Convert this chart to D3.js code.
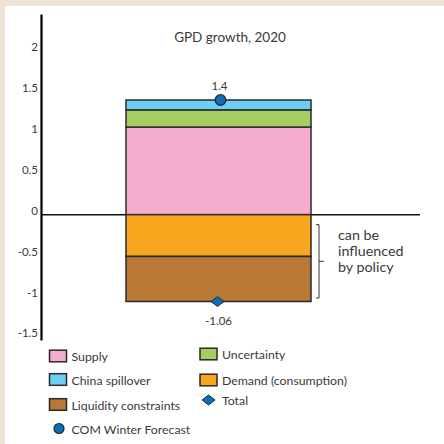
<!DOCTYPE html>
<html>
<head>
<meta charset="utf-8">
<script src="https://cdn.jsdelivr.net/npm/d3@7"></script>
<style>
  html, body { margin: 0; padding: 0; background: #EFE3D6; }
  svg { display: block; }
  text { font-family: Lato, "Open Sans", sans-serif; fill: #3a3a3a; }
</style>
</head>
<body>
<svg id="chart" width="444" height="444"></svg>
<script>
// GDP growth decomposition, 2020
const categories = ["2020"];
const seriesNames = ["Supply", "Uncertainty", "China spillover", "Demand (consumption)", "Liquidity constraints"];
const seriesValues = [1.07, 0.21, 0.12, -0.51, -0.55];
const forecastValue = [1.4];   // COM Winter Forecast
const totalValue = [-1.06];    // Total
const yTicks = [-1.5, -1, -0.5, 0, 0.5, 1, 1.5, 2];
const yTickLabels = ["-1.5", "-1", "-0.5", "0", "0.5", "1", "1.5", "2"];
const policyNote = ["can be", "influenced", "by policy"];
const titleText = "GPD growth, 2020";

const colors = {
  "Supply": "#F5ACCD",
  "Uncertainty": "#A4CE61",
  "China spillover": "#6DCFF6",
  "Demand (consumption)": "#F8A61E",
  "Liquidity constraints": "#B97835"
};
const markerFill = "#0B6FB8";
const edge = "#2a2a2a";
// plain hyphen for negative numbers
const fmt = p => v => d3.format(p)(v).replace("\u2212", "-");

const svg = d3.select("#chart");

// white panel
svg.append("rect").attr("x", 5).attr("y", 6).attr("width", 439).attr("height", 438).attr("fill", "#fff");

const y = d3.scaleLinear().domain([-1.53, 2.45]).range([340, 14]);
const x = d3.scaleBand().domain(categories).range([126, 311]).padding(0);

// stacked table
const table = categories.map(c => {
  const row = { cat: c };
  seriesNames.forEach((s, j) => row[s] = seriesValues[j]);
  return row;
});
const stacked = d3.stack().keys(seriesNames).offset(d3.stackOffsetDiverging)(table);

// zero line
svg.append("line")
  .attr("x1", 41).attr("x2", 420)
  .attr("y1", y(0)).attr("y2", y(0))
  .attr("stroke", "#111").attr("stroke-width", 1.5);

// bars
svg.append("g").selectAll("g").data(stacked).join("g")
  .attr("fill", d => colors[d.key])
  .selectAll("rect").data(d => d).join("rect")
  .attr("x", d => x(d.data.cat))
  .attr("width", x.bandwidth())
  .attr("y", d => y(Math.max(d[0], d[1])))
  .attr("height", d => Math.abs(y(d[0]) - y(d[1])))
  .attr("stroke", edge).attr("stroke-width", 1.5);

// y axis
const yAxis = d3.axisLeft(y).tickValues(yTicks)
  .tickFormat((d, i) => yTickLabels[i]).tickSize(0).tickPadding(3);
const gy = svg.append("g").attr("transform", "translate(41,0)").call(yAxis);
gy.select(".domain").attr("stroke", "#000").attr("stroke-width", 2.2);
gy.selectAll("text")
  .attr("font-family", "Lato, 'Open Sans', sans-serif")
  .attr("font-size", 11.5).attr("fill", "#3a3a3a")
  .attr("dy", "-0.05em");

// title
svg.append("text").attr("x", 230).attr("y", 42)
  .attr("text-anchor", "middle").attr("font-size", 13.5).text(titleText);

// markers: forecast circle and total diamond
const cx = x(categories[0]) + x.bandwidth() / 2;
svg.append("g").selectAll("circle").data(forecastValue).join("circle")
  .attr("cx", cx + 2).attr("cy", d => y(d)).attr("r", 5.3)
  .attr("fill", markerFill).attr("stroke", "#1b2a3a").attr("stroke-width", 1.3);
svg.append("g").selectAll("text").data(forecastValue).join("text")
  .attr("x", cx + 1).attr("y", d => y(d) - 10)
  .attr("text-anchor", "middle").attr("font-size", 11.5)
  .text(fmt(".1f"));

const diamond = (w, h) => `M0,${-h}L${w},0L0,${h}L${-w},0Z`;
svg.append("g").selectAll("path").data(totalValue).join("path")
  .attr("transform", d => `translate(${cx - 1},${y(d)})`)
  .attr("d", diamond(6.5, 5))
  .attr("fill", markerFill).attr("stroke", "#1b2a3a").attr("stroke-width", 1);
svg.append("g").selectAll("text").data(totalValue).join("text")
  .attr("x", cx).attr("y", d => y(d) + 23)
  .attr("text-anchor", "middle").attr("font-size", 11.5)
  .text(fmt(".2f"));

// bracket marking the policy-sensitive components
const negSum = d3.sum(seriesValues.filter(v => v < 0));
const bTop = y(0) + 10, bBot = y(negSum) - 3.5, bx = 319, bMid = (bTop + bBot) / 2;
svg.append("path")
  .attr("d", `M${bx - 3},${bTop}H${bx}V${bBot}H${bx - 3}M${bx},${bMid}H${bx + 5}`)
  .attr("fill", "none").attr("stroke", "#333").attr("stroke-width", 1);
svg.append("g").selectAll("text").data(policyNote).join("text")
  .attr("x", 338).attr("y", (d, i) => bTop + 15 + i * 16)
  .attr("font-size", 14.3).text(d => d);

// legend
const legendItems = [
  { name: "Supply", kind: "rect", x: 49.5, y: 356 },
  { name: "Uncertainty", kind: "rect", x: 200, y: 354 },
  { name: "China spillover", kind: "rect", x: 49.5, y: 379.5 },
  { name: "Demand (consumption)", kind: "rect", x: 200, y: 380 },
  { name: "Liquidity constraints", kind: "rect", x: 49.5, y: 404.5 },
  { name: "Total", kind: "diamond", x: 200, y: 400 },
  { name: "COM Winter Forecast", kind: "circle", x: 49.5, y: 428.5 }
];
const lg = svg.append("g").selectAll("g").data(legendItems).join("g")
  .attr("transform", d => `translate(${d.x},${d.y})`);
lg.filter(d => d.kind === "rect").append("rect")
  .attr("x", 0).attr("y", -5.8).attr("width", 17).attr("height", 11.6)
  .attr("fill", d => colors[d.name]).attr("stroke", edge).attr("stroke-width", 1.5);
lg.filter(d => d.kind === "diamond").append("path")
  .attr("transform", "translate(8.5,0)").attr("d", diamond(6.5, 5))
  .attr("fill", markerFill).attr("stroke", "#1b2a3a").attr("stroke-width", 1);
lg.filter(d => d.kind === "circle").append("circle")
  .attr("cx", 9.5).attr("cy", 0).attr("r", 5)
  .attr("fill", markerFill).attr("stroke", "#1b2a3a").attr("stroke-width", 1.2);
lg.append("text")
  .attr("x", 22)
  .attr("y", 2).attr("dominant-baseline", "middle")
  .attr("font-size", 12.3).text(d => d.name);
</script>
</body>
</html>
